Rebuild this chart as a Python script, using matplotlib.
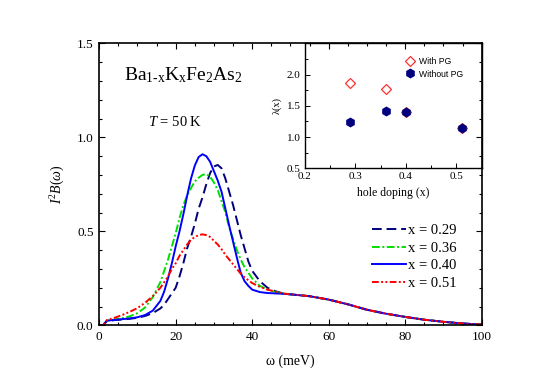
import matplotlib
matplotlib.use('Agg')
import matplotlib.pyplot as plt
from matplotlib.ticker import MultipleLocator

plt.rcParams['font.family'] = ['Liberation Serif', 'DejaVu Serif']
plt.rcParams['mathtext.fontset'] = 'custom'
plt.rcParams['mathtext.rm'] = 'Liberation Serif'
plt.rcParams['mathtext.it'] = 'Liberation Serif:italic'

# spectral functions
omega = [0, 1, 2, 4, 6, 8, 10, 12, 14, 16, 17, 18, 19, 20, 21, 22, 23, 24,
         25, 26, 27, 28, 29, 30, 31, 32, 33, 34, 35, 36, 37, 38, 39, 40, 42,
         44, 46, 48, 50, 55, 60, 65, 70, 75, 80, 85, 90, 95, 100]

b_029 = [0, 0, 0.022, 0.028, 0.031, 0.035, 0.04, 0.05, 0.065, 0.09, 0.11,
         0.14, 0.17, 0.2, 0.26, 0.33, 0.41, 0.47, 0.54, 0.62, 0.68, 0.75,
         0.81, 0.845, 0.853, 0.835, 0.78, 0.71, 0.64, 0.56, 0.48, 0.41, 0.34,
         0.29, 0.235, 0.2, 0.182, 0.17, 0.165, 0.155, 0.137, 0.112, 0.083,
         0.062, 0.045, 0.03, 0.019, 0.01, 0.004]
b_036 = [0, 0, 0.024, 0.031, 0.038, 0.048, 0.065, 0.095, 0.15, 0.23, 0.29,
         0.35, 0.42, 0.49, 0.57, 0.64, 0.69, 0.73, 0.765, 0.785, 0.8, 0.805,
         0.79, 0.76, 0.72, 0.66, 0.6, 0.52, 0.46, 0.4, 0.35, 0.31, 0.28,
         0.25, 0.21, 0.19, 0.178, 0.17, 0.165, 0.155, 0.137, 0.112, 0.083,
         0.062, 0.045, 0.03, 0.019, 0.01, 0.004]
b_040 = [0, 0, 0.025, 0.029, 0.033, 0.037, 0.043, 0.055, 0.078, 0.13, 0.18,
         0.25, 0.33, 0.42, 0.5, 0.59, 0.69, 0.78, 0.85, 0.895, 0.91, 0.9,
         0.87, 0.82, 0.77, 0.71, 0.62, 0.53, 0.445, 0.36, 0.28, 0.235, 0.21,
         0.19, 0.177, 0.172, 0.17, 0.168, 0.165, 0.155, 0.137, 0.112, 0.083,
         0.062, 0.045, 0.03, 0.019, 0.01, 0.004]
b_051 = [0, 0, 0.028, 0.04, 0.055, 0.072, 0.092, 0.12, 0.155, 0.2, 0.23,
         0.26, 0.3, 0.33, 0.37, 0.4, 0.43, 0.455, 0.47, 0.48, 0.484, 0.48,
         0.47, 0.45, 0.43, 0.405, 0.375, 0.35, 0.325, 0.3, 0.275, 0.255,
         0.24, 0.225, 0.205, 0.19, 0.18, 0.17, 0.165, 0.155, 0.137, 0.112,
         0.083, 0.062, 0.045, 0.03, 0.019, 0.01, 0.004]

# coupling constants (inset)
doping = [0.29, 0.36, 0.40, 0.51]
lam_pg = [1.86, 1.77, 1.40, 1.15]
lam_nopg = [1.24, 1.42, 1.40, 1.15]

fig = plt.figure(figsize=(5.54, 3.92), dpi=100, facecolor='white')

ax = fig.add_axes([0.179, 0.170, 0.6905, 0.7195])
lw = 1.4
ax.plot(omega, b_029, color='#00007f', lw=lw, dashes=(5, 2.5), label='x = 0.29')
ax.plot(omega, b_036, color='#00e000', lw=lw, dashes=(4, 1.3, 1, 1.3), label='x = 0.36')
ax.plot(omega, b_040, color='#0000ff', lw=lw, label='x = 0.40')
ax.plot(omega, b_051, color='#ff0000', lw=lw, dashes=(3.5, 1.2, 1, 1.2, 1, 1.2), label='x = 0.51')

ax.set_xlim(0, 100)
ax.set_ylim(0, 1.5)
ax.xaxis.set_major_locator(MultipleLocator(20))
ax.xaxis.set_minor_locator(MultipleLocator(5))
ax.yaxis.set_major_locator(MultipleLocator(0.5))
ax.yaxis.set_minor_locator(MultipleLocator(0.1))
ax.yaxis.set_major_formatter(matplotlib.ticker.FormatStrFormatter('%.1f'))
ax.tick_params(which='both', direction='in', top=True, right=True,
               labelsize=9.5, width=0.8)
ax.tick_params(which='major', length=4.5, pad=4)
ax.tick_params(which='minor', length=2.5)
for s in ax.spines.values():
    s.set_linewidth(1.2)

ax.set_xlabel('\u03c9 (meV)', fontsize=10, labelpad=8)
ax.set_ylabel(r'$I^2B(\omega)$', fontsize=10, labelpad=7)

ax.text(6.5, 1.305, r'Ba$_{\mathrm{1\text{-}x}}$K$_{\mathrm{x}}$Fe$_{\mathrm{2}}$As$_{\mathrm{2}}$',
        fontsize=14)
ax.text(12.7, 1.06, r'$T$ = 50 K', fontsize=10.5)

ax.legend(loc='upper left', bbox_to_anchor=(372/554, 1 - 224/392),
          bbox_transform=fig.transFigure, frameon=False, fontsize=10.5,
          handlelength=2.3, handletextpad=0.2, labelspacing=0.3,
          borderpad=0, borderaxespad=0)

# inset
ins = fig.add_axes([0.5505, 0.5707, 0.319, 0.3188], facecolor='none')
ins.plot(doping, lam_pg, ls='none', marker='D', ms=4.6, mfc='none',
         mec='#ff3030', mew=0.9, label='With PG')
ins.plot(doping, lam_nopg, ls='none', marker='h', ms=6, color='#00007f',
         label='Without PG')
ins.set_xlim(0.2, 0.55)
ins.set_ylim(0.5, 2.5)
ins.set_xticks([0.2, 0.3, 0.4, 0.5])
ins.set_yticks([0.5, 1.0, 1.5, 2.0])
ins.xaxis.set_minor_locator(MultipleLocator(0.05))
ins.yaxis.set_minor_locator(MultipleLocator(0.25))
ins.yaxis.set_major_formatter(matplotlib.ticker.FormatStrFormatter('%.1f'))
ins.tick_params(which='both', direction='in', labelsize=8, width=0.7)
ins.tick_params(which='major', length=3.5, pad=3)
ins.tick_params(which='minor', length=2)
for s in ins.spines.values():
    s.set_linewidth(1.0)
ins.set_xlabel('hole doping (x)', fontsize=8.5, labelpad=4)
ins.set_ylabel('\u03bb(x)', fontsize=7.5, labelpad=4)
ins.legend(loc='upper left', bbox_to_anchor=(0.566, 0.89), frameon=False,
           prop={'family': 'Liberation Sans', 'size': 6.2},
           handletextpad=0.4, labelspacing=0.4, borderpad=0,
           borderaxespad=0, handlelength=1.2)

fig.savefig('out.png', dpi=100)
